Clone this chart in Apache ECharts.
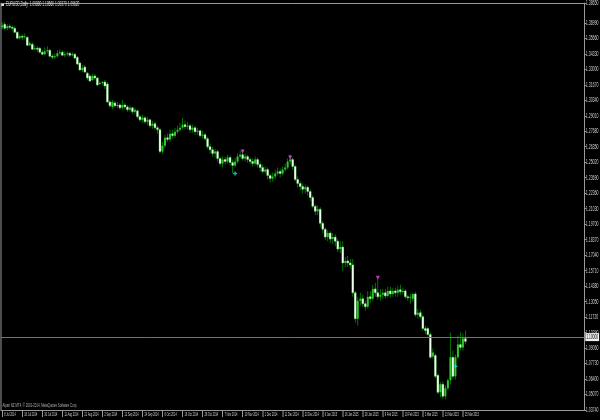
<!DOCTYPE html>
<html>
<head>
<meta charset="utf-8">
<script src="https://cdn.jsdelivr.net/npm/echarts@6/dist/echarts.min.js"></script>
<style>
html,body{margin:0;padding:0;background:#000;overflow:hidden;}
#wrap{width:600px;height:420px;overflow:hidden;position:relative;}
/* the reference is a horizontally squeezed terminal screenshot: draw at double width, squeeze to 600 */
#c{width:1200px;height:420px;transform:scaleX(0.5);transform-origin:0 0;position:absolute;left:0;top:0;}
</style>
</head>
<body>
<div id="wrap"><div id="c"></div></div>
<script>
// Tick labels on the date axis: one every 8 daily bars, first bar = 8 Jul 2014
var tickLabels = ['8 Jul 2014','18 Jul 2014','30 Jul 2014','11 Aug 2014','21 Aug 2014','2 Sep 2014','12 Sep 2014','24 Sep 2014','6 Oct 2014','16 Oct 2014','28 Oct 2014','7 Nov 2014','19 Nov 2014','1 Dec 2014','11 Dec 2014','23 Dec 2014','6 Jan 2015','16 Jan 2015','28 Jan 2015','9 Feb 2015','19 Feb 2015','3 Mar 2015','13 Mar 2015','25 Mar 2015'];

var open = [1.3660,1.3686,1.3652,1.3669,1.3660,1.3652,1.3618,1.3567,1.3584,1.3575,1.3575,1.3506,1.3515,1.3472,1.3481,1.3481,1.3447,1.3430,1.3455,1.3464,
1.3413,1.3404,1.3413,1.3438,1.3447,1.3421,1.3430,1.3438,1.3421,1.3430,1.3404,1.3353,1.3294,1.3319,1.3267,1.3242,1.3208,1.3242,1.3225,1.3174,
1.3182,1.3191,1.3174,1.3020,1.2977,1.3011,1.2986,1.2994,1.2969,1.2994,1.2977,1.2952,1.2969,1.2935,1.2943,1.2892,1.2866,1.2883,1.2849,1.2866,
1.2815,1.2832,1.2798,1.2781,1.2593,1.2644,1.2713,1.2696,1.2747,1.2730,1.2764,1.2781,1.2798,1.2824,1.2807,1.2815,1.2781,1.2798,1.2764,1.2772,
1.2730,1.2738,1.2704,1.2635,1.2610,1.2576,1.2593,1.2533,1.2491,1.2525,1.2508,1.2542,1.2499,1.2474,1.2508,1.2550,1.2567,1.2533,1.2550,1.2525,
1.2508,1.2491,1.2525,1.2482,1.2457,1.2422,1.2439,1.2388,1.2363,1.2380,1.2405,1.2422,1.2405,1.2439,1.2457,1.2508,1.2525,1.2465,1.2354,1.2320,
1.2294,1.2269,1.2286,1.2251,1.2200,1.2123,1.2081,1.2098,1.1978,1.1927,1.1859,1.1893,1.1842,1.1859,1.1824,1.1756,1.1773,1.1637,1.1654,1.1637,
1.1620,1.1380,1.1158,1.1312,1.1329,1.1286,1.1261,1.1346,1.1329,1.1414,1.1380,1.1346,1.1363,1.1380,1.1354,1.1397,1.1371,1.1397,1.1380,1.1406,
1.1389,1.1397,1.1346,1.1337,1.1329,1.1371,1.1192,1.1209,1.1175,1.1073,1.1073,1.1022,1.0834,1.0843,1.0672,1.0526,1.0595,1.0492,1.0560,1.0629,
1.0826,1.0663,1.0826,1.0937,1.0911,1.0988];
var high = [1.3703,1.3703,1.3686,1.3694,1.3677,1.3669,1.3626,1.3601,1.3601,1.3609,1.3584,1.3541,1.3532,1.3506,1.3498,1.3489,1.3464,1.3489,1.3498,1.3472,
1.3430,1.3438,1.3464,1.3472,1.3464,1.3455,1.3455,1.3447,1.3447,1.3438,1.3413,1.3370,1.3336,1.3336,1.3276,1.3259,1.3259,1.3259,1.3233,1.3199,
1.3199,1.3208,1.3191,1.3037,1.3037,1.3028,1.3020,1.3011,1.3037,1.3011,1.2994,1.2986,1.2977,1.2969,1.2952,1.2909,1.2909,1.2900,1.2892,1.2875,
1.2858,1.2849,1.2815,1.2798,1.2678,1.2738,1.2747,1.2781,1.2781,1.2798,1.2815,1.2841,1.2883,1.2858,1.2849,1.2832,1.2824,1.2815,1.2798,1.2781,
1.2772,1.2755,1.2721,1.2661,1.2635,1.2618,1.2610,1.2550,1.2550,1.2550,1.2567,1.2559,1.2525,1.2542,1.2576,1.2601,1.2610,1.2576,1.2567,1.2542,
1.2533,1.2550,1.2542,1.2508,1.2482,1.2465,1.2457,1.2405,1.2414,1.2439,1.2457,1.2448,1.2465,1.2491,1.2533,1.2567,1.2542,1.2482,1.2380,1.2337,
1.2320,1.2311,1.2303,1.2269,1.2217,1.2140,1.2132,1.2115,1.1995,1.1944,1.1918,1.1910,1.1893,1.1884,1.1842,1.1824,1.1824,1.1688,1.1697,1.1671,
1.1671,1.1397,1.1346,1.1380,1.1363,1.1312,1.1397,1.1397,1.1449,1.1466,1.1509,1.1414,1.1414,1.1414,1.1432,1.1432,1.1423,1.1423,1.1440,1.1449,
1.1423,1.1414,1.1363,1.1371,1.1380,1.1389,1.1244,1.1235,1.1192,1.1098,1.1090,1.1039,1.0902,1.0860,1.0689,1.0612,1.0620,1.0586,1.0646,1.1039,
1.0885,1.0851,1.1014,1.1039,1.1031,1.1056];
var low = [1.3643,1.3635,1.3635,1.3643,1.3626,1.3609,1.3558,1.3558,1.3550,1.3558,1.3498,1.3498,1.3464,1.3464,1.3447,1.3438,1.3421,1.3421,1.3438,1.3404,
1.3387,1.3387,1.3404,1.3421,1.3413,1.3404,1.3413,1.3404,1.3413,1.3387,1.3336,1.3285,1.3276,1.3267,1.3208,1.3191,1.3199,1.3208,1.3157,1.3165,
1.3165,1.3131,1.3011,1.2969,1.2960,1.2969,1.2969,1.2952,1.2952,1.2952,1.2935,1.2935,1.2918,1.2918,1.2875,1.2849,1.2840,1.2832,1.2823,1.2798,
1.2789,1.2781,1.2747,1.2576,1.2576,1.2627,1.2678,1.2678,1.2704,1.2713,1.2747,1.2764,1.2781,1.2781,1.2781,1.2755,1.2755,1.2738,1.2738,1.2713,
1.2704,1.2687,1.2618,1.2576,1.2550,1.2542,1.2508,1.2465,1.2457,1.2482,1.2491,1.2474,1.2405,1.2457,1.2491,1.2533,1.2516,1.2508,1.2499,1.2482,
1.2465,1.2474,1.2457,1.2422,1.2405,1.2405,1.2354,1.2328,1.2337,1.2354,1.2388,1.2371,1.2388,1.2422,1.2439,1.2482,1.2439,1.2337,1.2286,1.2260,
1.2234,1.2234,1.2217,1.2166,1.2106,1.2047,1.2047,1.1944,1.1893,1.1833,1.1824,1.1807,1.1799,1.1781,1.1730,1.1722,1.1568,1.1603,1.1603,1.1586,
1.1346,1.1124,1.1098,1.1269,1.1261,1.1227,1.1244,1.1295,1.1312,1.1346,1.1321,1.1312,1.1329,1.1329,1.1337,1.1337,1.1346,1.1346,1.1346,1.1363,
1.1363,1.1329,1.1312,1.1286,1.1303,1.1175,1.1158,1.1158,1.1056,1.1022,1.1005,1.0817,1.0817,1.0646,1.0509,1.0484,1.0467,1.0467,1.0543,1.0595,
1.0637,1.0637,1.0809,1.0885,1.0885,1.0937];
var close = [1.3677,1.3652,1.3669,1.3660,1.3652,1.3618,1.3567,1.3584,1.3575,1.3584,1.3506,1.3524,1.3472,1.3481,1.3472,1.3447,1.3430,1.3455,1.3464,1.3413,
1.3404,1.3413,1.3438,1.3447,1.3421,1.3430,1.3438,1.3421,1.3430,1.3396,1.3345,1.3294,1.3311,1.3276,1.3225,1.3199,1.3242,1.3225,1.3165,1.3182,
1.3191,1.3157,1.3020,1.2986,1.3020,1.2986,1.2994,1.2969,1.2994,1.2977,1.2952,1.2969,1.2935,1.2952,1.2892,1.2866,1.2883,1.2849,1.2866,1.2815,
1.2832,1.2798,1.2781,1.2593,1.2644,1.2713,1.2696,1.2747,1.2730,1.2764,1.2781,1.2798,1.2824,1.2807,1.2815,1.2781,1.2798,1.2764,1.2772,1.2730,
1.2738,1.2704,1.2635,1.2610,1.2576,1.2593,1.2533,1.2491,1.2525,1.2508,1.2542,1.2499,1.2474,1.2508,1.2550,1.2567,1.2533,1.2550,1.2525,1.2508,
1.2491,1.2525,1.2482,1.2457,1.2422,1.2439,1.2388,1.2363,1.2380,1.2405,1.2422,1.2405,1.2439,1.2457,1.2508,1.2525,1.2465,1.2354,1.2320,1.2294,
1.2269,1.2286,1.2251,1.2200,1.2123,1.2081,1.2098,1.1978,1.1927,1.1859,1.1893,1.1842,1.1859,1.1824,1.1756,1.1773,1.1637,1.1654,1.1637,1.1620,
1.1380,1.1158,1.1312,1.1329,1.1286,1.1261,1.1346,1.1329,1.1414,1.1380,1.1346,1.1363,1.1380,1.1354,1.1397,1.1371,1.1397,1.1380,1.1406,1.1389,
1.1397,1.1346,1.1337,1.1346,1.1371,1.1192,1.1209,1.1175,1.1073,1.1056,1.1022,1.0826,1.0868,1.0663,1.0526,1.0595,1.0492,1.0560,1.0629,1.0826,
1.0663,1.0826,1.0937,1.0911,1.0988,1.0962];

// trade arrows drawn on the chart: [bar index, price]
var sellMarks = [[96,1.2593],[115,1.2542],[150,1.1509]];
var buyMarks = [[93,1.2405],[181,1.0749]];

var TOTAL_SLOTS = 233; // bars + empty right margin (chart shift)
var cats = [];
for (var i = 0; i < TOTAL_SLOTS; i++) cats.push(i % 8 === 0 && i / 8 < tickLabels.length ? tickLabels[i / 8] : '');
var ohlc = [];
for (var j = 0; j < close.length; j++) ohlc.push([j, open[j], close[j], low[j], high[j]]);
var last = close.length - 1;
var showTick = function (idx) { return idx % 8 === 0 && idx / 8 < tickLabels.length; };
var F = 'Liberation Sans, Arial, sans-serif';
var AX = '#9a9a9a';

var chart = echarts.init(document.getElementById('c'), null, {renderer: 'canvas', width: 1200, height: 420});
chart.setOption({
  animation: false,
  backgroundColor: '#000',
  title: {
    text: 'EURUSD,Daily  ' + open[last].toFixed(5) + ' ' + high[last].toFixed(5) + ' ' + low[last].toFixed(5) + ' ' + close[last].toFixed(5),
    left: 12, top: 1, padding: 0,
    textStyle: {color: '#e0e0e0', fontSize: 6.5, fontWeight: 'normal', fontFamily: F}
  },
  graphic: [
    {type: 'rect', left: 3, top: 3, shape: {width: 5, height: 3}, style: {fill: '#e0e0e0'}},
    {type: 'text', left: 5, top: 402, style: {text: 'Alpari NZ MT4, \u00a9 2001-2014, MetaQuotes Software Corp.', fill: '#b0b0b0', fontSize: 5.8, fontFamily: F}}
  ],
  grid: {left: 2, right: 28, top: 1, bottom: 10, show: false, containLabel: false},
  xAxis: [{
    type: 'category', data: cats, boundaryGap: true,
    axisLine: {show: true, lineStyle: {color: AX, width: 1}},
    axisTick: {show: true, alignWithLabel: true, interval: showTick, length: 7, lineStyle: {color: AX, width: 2}},
    axisLabel: {show: true, interval: showTick, showMinLabel: true, hideOverlap: false, align: 'left', margin: 2, padding: [0, 0, 0, 4], color: '#d0d0d0', fontSize: 5, fontFamily: F},
    splitLine: {show: false}
  }, {
    type: 'category', data: cats, boundaryGap: true, position: 'top',
    axisLine: {show: true, lineStyle: {color: AX, width: 1}},
    axisTick: {show: false}, axisLabel: {show: false}, splitLine: {show: false}
  }],
  yAxis: [{
    type: 'value', position: 'right', min: 1.0374, max: 1.3865, interval: 0.0133,
    axisLine: {show: true, lineStyle: {color: AX, width: 2}},
    axisTick: {show: true, length: 4, lineStyle: {color: AX, width: 1}},
    axisLabel: {show: true, showMinLabel: true, showMaxLabel: true, margin: 3, color: '#d0d0d0', fontSize: 7, fontFamily: F, formatter: function (v) { return v.toFixed(5); }},
    splitLine: {show: false}
  }, {
    type: 'value', position: 'left', min: 1.0374, max: 1.3865, interval: 0.0133,
    axisLine: {show: true, lineStyle: {color: AX, width: 2}},
    axisTick: {show: false}, axisLabel: {show: false}, splitLine: {show: false}
  }],
  series: [
    {
      type: 'custom', name: 'EURUSD', data: ohlc, clip: true,
      encode: {x: 0, y: [1, 2, 3, 4]},
      renderItem: function (params, api) {
        var idx = api.value(0), o = api.value(1), c = api.value(2), l = api.value(3), h = api.value(4);
        var pO = api.coord([idx, o]), pC = api.coord([idx, c]), pL = api.coord([idx, l]), pH = api.coord([idx, h]);
        var w = api.size([1, 0])[0] * 0.8;
        var x = pO[0];
        var top = Math.min(pO[1], pC[1]), bot = Math.max(pO[1], pC[1]);
        var bull = c >= o;
        return {type: 'group', children: [
          {type: 'line', shape: {x1: x, y1: pH[1], x2: x, y2: pL[1]}, style: {stroke: '#00a000', lineWidth: 1.4}},
          {type: 'rect', shape: {x: x - w / 2, y: top, width: w, height: Math.max(bot - top, 1)},
            style: bull ? {fill: '#2cc82c'} : {fill: '#f2fff2', stroke: '#50d050', lineWidth: 0.6}}
        ]};
      }
    },
    {
      type: 'scatter', name: 'sell', data: sellMarks, symbol: 'triangle', symbolRotate: 180, symbolSize: [8, 4],
      itemStyle: {color: '#ff40ff'},
      markLine: {
        symbol: 'none', silent: true, animation: false,
        data: [{yAxis: close[last]}],
        lineStyle: {color: '#66758c', type: 'solid', width: 1, opacity: 1},
        label: {show: true, position: 'end', distance: 2, formatter: function (p) { return p.value.toFixed(5); },
          backgroundColor: '#f0f0f0', color: '#000', fontSize: 6.5, fontFamily: F, padding: [1, 2, 0, 2]}
      }
    },
    {
      type: 'scatter', name: 'buy', data: buyMarks,
      symbol: 'path://M2,0H4V2H6V4H4V6H2V4H0V2H2Z', symbolSize: [8, 4],
      itemStyle: {color: '#20e0e0'}
    }
  ]
});
</script>
</body>
</html>
